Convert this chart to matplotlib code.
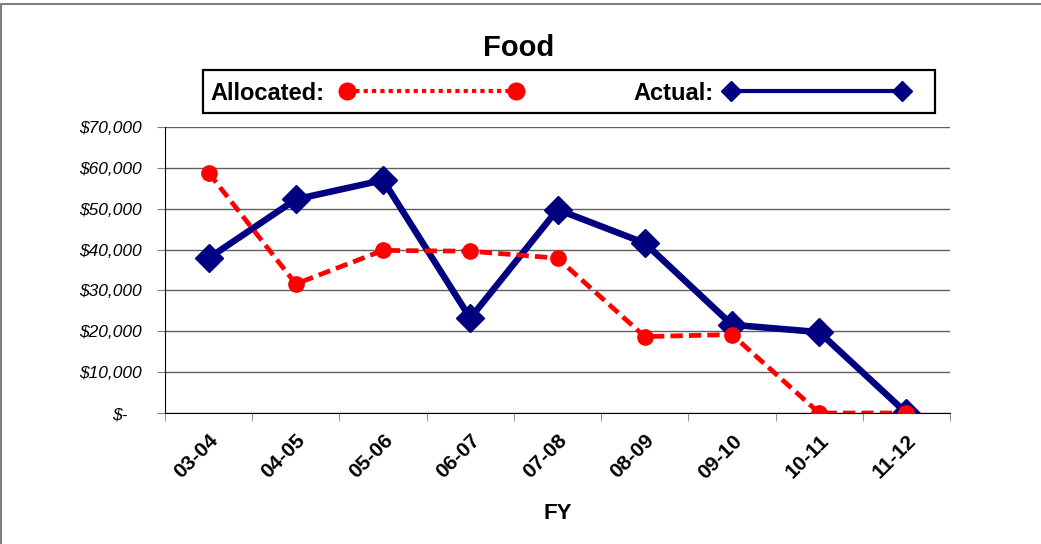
import matplotlib.pyplot as plt
from matplotlib.lines import Line2D
from matplotlib.patches import Rectangle
from matplotlib.ticker import FuncFormatter

plt.rcParams['font.family'] = ['Liberation Sans', 'DejaVu Sans']

# Fiscal years and amounts
years = ['03-04', '04-05', '05-06', '06-07', '07-08', '08-09', '09-10', '10-11', '11-12']
allocated = [58800, 31600, 39800, 39600, 37900, 18700, 19200, 0, 0]
actual = [37900, 52300, 57000, 23200, 49800, 41600, 21600, 19800, 0]

NAVY = '#000080'
RED = '#ff0000'

fig = plt.figure(figsize=(10.41, 5.44), dpi=100)
ax = fig.add_axes([0.1585, 0.2408, 0.9126 - 0.1585, 0.7665 - 0.2408])

x = range(len(years))
ax.plot(x, actual, color=NAVY, linewidth=4.7, marker='D', markersize=14, zorder=3)
ax.plot(x, allocated, color=RED, linestyle=(0, (2.6, 1.3)), linewidth=3.4,
        marker='o', markersize=11, zorder=4)

ax.set_xlim(-0.5, len(years) - 0.5)
ax.set_ylim(0, 70000)
ax.set_yticks(range(0, 70001, 10000))

def money(v, pos):
    if v == 0:
        return '$-   '
    return '${:,.0f}'.format(v)

ax.yaxis.set_major_formatter(FuncFormatter(money))
for t in ax.get_yticklabels():
    t.set_fontstyle('italic')
    t.set_fontsize(12.5)

ax.set_xticks(list(x))
ax.set_xticklabels(years, rotation=45, ha='right', rotation_mode='anchor',
                   fontsize=15, fontweight='bold')
ax.tick_params(axis='x', which='major', length=0, pad=13)
ax.set_xticks([i - 0.5 for i in range(len(years) + 1)], minor=True)
ax.tick_params(axis='x', which='minor', length=5.5, color='#808080')
ax.tick_params(axis='y', length=5.5, color='#808080', pad=11)

ax.grid(axis='y', color='#606060', linewidth=1)
ax.set_axisbelow(True)
for s in ['top', 'right']:
    ax.spines[s].set_visible(False)
ax.spines['left'].set_color('black')
ax.spines['bottom'].set_color('black')

ax.set_xlabel('FY', fontsize=16, fontweight='bold', labelpad=15)
fig.text(0.4986, 0.8971, 'Food', ha='center', va='baseline', fontsize=21, fontweight='bold')

# Legend box drawn by hand to match the Excel layout
fig.patches.append(Rectangle((0.1950, 0.7923), 0.7032, 0.0790, transform=fig.transFigure,
                             fill=False, edgecolor='black', linewidth=1.6))
fig.text(0.2017, 0.8162, 'Allocated:', ha='left', va='baseline', fontsize=17, fontweight='bold')
fig.text(0.6081, 0.8162, 'Actual:', ha='left', va='baseline', fontsize=17, fontweight='bold')
fig.lines.append(Line2D([0.3333, 0.4957], [0.8327, 0.8327], transform=fig.transFigure,
                        color=RED, linestyle=(0, (1.0, 1.0)), linewidth=3,
                        marker='o', markersize=12))
fig.lines.append(Line2D([0.7022, 0.8665], [0.8327, 0.8327], transform=fig.transFigure,
                        color=NAVY, linewidth=3, marker='D', markersize=10))

# Outer chart border (top and left visible)
fig.patches.append(Rectangle((0.0005, -0.05), 1.05, 1.042, transform=fig.transFigure,
                             fill=False, edgecolor='#808080', linewidth=1.5))

fig.savefig('out.png', dpi=100)
